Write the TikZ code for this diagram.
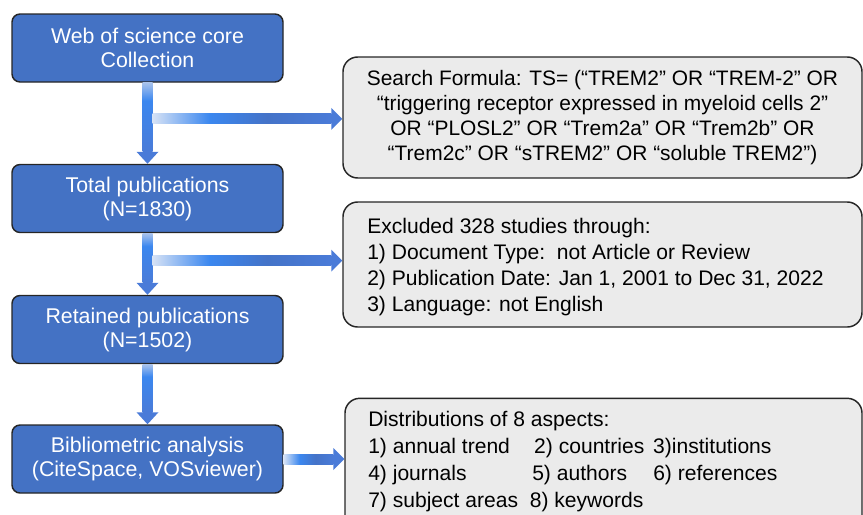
\documentclass[tikz,border=0pt]{standalone}
\usepackage{fontspec}
\setmainfont{Liberation Sans}
\usetikzlibrary{calc}
\definecolor{boxblue}{HTML}{4472C4}
\definecolor{boxgray}{HTML}{EBEBEB}
\definecolor{hl}{HTML}{D6E2F5}
\definecolor{hb}{HTML}{3B87EF}
\definecolor{hd}{HTML}{4473C8}
\definecolor{hm}{HTML}{4A7BD8}
\definecolor{vl}{HTML}{A8C2EC}
\pgfdeclarehorizontalshading{hshaft}{100bp}{color(0bp)=(hl); color(25bp)=(hl); color(41bp)=(hb); color(57bp)=(hd); color(75bp)=(hm); color(100bp)=(hm)}
\pgfdeclareverticalshading{vshaft}{100bp}{color(0bp)=(hm); color(25bp)=(hm); color(62bp)=(hb); color(75bp)=(vl); color(100bp)=(vl)}
% vertical flow arrow: #1 start (top), #2 tip (bottom)
\newcommand{\vflowarrow}[2]{%
  \shade[shading=vshaft] ($(#1)+(-5,0)$) rectangle ($(#2)+(5,-12)$);
  \fill[hm] ($(#2)+(-11,-12)$) -- ($(#2)+(11,-12)$) -- (#2) -- cycle;}
% horizontal flow arrow: #1 start (left), #2 tip (right)
\newcommand{\hflowarrow}[2]{%
  \shade[shading=hshaft] ($(#1)+(0,-5)$) rectangle ($(#2)+(-11,5)$);
  \fill[hm] ($(#2)+(-11,-11)$) -- ($(#2)+(-11,11)$) -- (#2) -- cycle;}
\begin{document}
\begin{tikzpicture}[x=0.75pt,y=-0.75pt,
  bluebox/.style={draw=black!85, line width=1.1pt, fill=boxblue, rounded corners=6pt,
    minimum width=203.25pt, minimum height=51pt, text=white, align=center,
    font=\fontsize{16}{18}\selectfont, inner sep=0pt},
  graybox/.style={draw=black!85, line width=1.1pt, fill=boxgray, rounded corners=11pt,
    inner sep=0pt, minimum width=389.25pt},
  graytext/.style={font=\fontsize{15.8}{19.5}\selectfont, inner sep=0pt, align=left, anchor=west}]
\clip (0,0) rectangle (863,514);
\node[bluebox] (b1) at (147.5,48) {Web of science core\\Collection};
\node[bluebox] (b2) at (147.5,198.5) {Total publications\\(N=1830)};
\node[bluebox] (b3) at (147.5,329.5) {Retained publications\\(N=1502)};
\node[bluebox] (b4) at (147.5,459) {Bibliometric analysis\\(CiteSpace, VOSviewer)};

\node[graybox, minimum height=90.75pt, align=center, font=\fontsize{15.7}{18.9}\selectfont]
  (ga) at (602.5,117.5) {Search Formula: TS= (“TREM2” OR “TREM-2” OR\\“triggering receptor expressed in myeloid cells 2”\\OR “PLOSL2” OR “Trem2a” OR “Trem2b” OR\\“Trem2c” OR “sTREM2” OR “soluble TREM2”)};
\node[graybox, minimum height=93.75pt] (gb) at (602.5,264.5) {};
\node[graybox, minimum width=387.75pt, minimum height=103pt] (gc) at (603.5,467) {};

\node[graytext] (tb) at (367,267.5) {Excluded 328 studies through:\\1) Document Type:\ \ not Article or Review\\2) Publication Date: Jan 1, 2001 to Dec 31, 2022\\3) Language: not English};
\node[graytext, font=\fontsize{15.8}{20.25}\selectfont] (tc) at (368,461.5) {Distributions of 8 aspects:\\\makebox[124.5pt][l]{1) annual trend}\makebox[89.25pt][l]{2) countries}3)institutions\\\makebox[123pt][l]{4) journals}\makebox[90.75pt][l]{5) authors}6) references\\7) subject areas\ \ 8) keywords};

\coordinate (j1) at ($(b1.south)!0.445!(b2.north)$);
\coordinate (j2) at ($(b2.south)!0.445!(b3.north)$);
\coordinate (s1) at ($(j1)+(5,0)$);
\coordinate (s2) at ($(j2)+(5,0)$);
\coordinate (t1) at (j1 -| ga.west);
\coordinate (t2) at (j2 -| gb.west);
\coordinate (t3) at (b4.east -| gc.west);

\vflowarrow{b1.south}{b2.north}
\vflowarrow{b2.south}{b3.north}
\vflowarrow{b3.south}{b4.north}
\hflowarrow{s1}{t1}
\hflowarrow{s2}{t2}
\hflowarrow{b4.east}{t3}
\end{tikzpicture}
\end{document}
